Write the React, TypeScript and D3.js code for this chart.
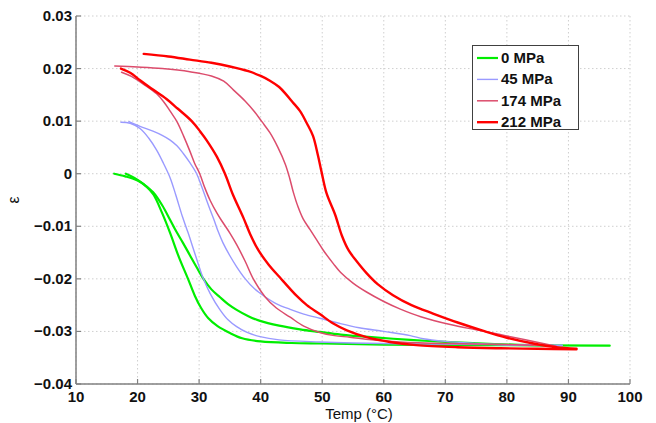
import React from "react";
import * as d3 from "d3";

type P = [number, number];

const xTicks = [10, 20, 30, 40, 50, 60, 70, 80, 90, 100];
const yTicks = [0.03, 0.02, 0.01, 0, -0.01, -0.02, -0.03, -0.04];
const seriesNames = ["0 MPa", "45 MPa", "174 MPa", "212 MPa"];

const green1: P[] = [[16.2,0],[18,-0.0005],[20,-0.0013],[21.5,-0.0025],[22.6,-0.004],[24,-0.0075],[25.3,-0.0113],[26.7,-0.0158],[28.2,-0.02],[29.3,-0.0232],[30.3,-0.0255],[31.5,-0.0275],[33,-0.029],[35,-0.0303],[37,-0.0313],[40,-0.0319],[45,-0.0322],[50,-0.0323],[60,-0.0325],[75,-0.0326],[96.7,-0.0327]];
const green2: P[] = [[18.1,0],[19.5,-0.0008],[21,-0.002],[22.5,-0.0035],[24,-0.006],[25.3,-0.0088],[26.3,-0.011],[27.4,-0.0132],[28.5,-0.0155],[29.6,-0.0178],[30.7,-0.02],[32,-0.022],[33.4,-0.0235],[34.7,-0.0248],[36.1,-0.0259],[38,-0.0271],[39.9,-0.028],[43,-0.0289],[46.4,-0.0296],[49.6,-0.0301],[53,-0.0306],[58,-0.0311],[64.3,-0.0316],[70,-0.032],[78,-0.0324],[87.5,-0.0327]];
const blue1: P[] = [[17.3,0.0098],[18.8,0.0096],[20.4,0.0086],[21.8,0.0068],[23.1,0.0045],[24.2,0.002],[25.3,-0.0008],[26.2,-0.004],[27.3,-0.0082],[28.2,-0.0112],[29.4,-0.0155],[30.7,-0.02],[31.8,-0.0228],[33.4,-0.0259],[34.7,-0.0278],[36.1,-0.0291],[37.8,-0.0302],[39.9,-0.031],[43,-0.0316],[49.6,-0.032],[55,-0.0322],[65,-0.0324],[78,-0.0325],[89,-0.0326]];
const blue2: P[] = [[18.6,0.0099],[20.4,0.009],[22.5,0.0081],[24,0.0073],[25.3,0.0064],[26.4,0.0053],[27.4,0.0039],[28.5,0.0021],[29.6,0],[30.4,-0.0024],[31.2,-0.005],[31.8,-0.0069],[32.4,-0.0087],[33.1,-0.011],[33.9,-0.0132],[35,-0.0156],[36.1,-0.0177],[37.5,-0.02],[39,-0.0219],[40.7,-0.0234],[42.5,-0.0247],[44.8,-0.0258],[47,-0.0267],[49.6,-0.0275],[52.9,-0.0285],[56,-0.0293],[60,-0.03],[64.3,-0.0308],[66.4,-0.0314],[70,-0.0319],[75,-0.0323],[80,-0.0326],[89,-0.0327]];
const crimson1: P[] = [[16.3,0.0205],[20,0.0203],[24,0.02],[28.5,0.0194],[32,0.0186],[34,0.0176],[35.6,0.0159],[37.5,0.0138],[39,0.0118],[40.2,0.0099],[41.5,0.0078],[42.8,0.005],[44,0.0018],[44.7,-0.0008],[45.3,-0.0035],[46.1,-0.0064],[46.9,-0.0086],[48,-0.0106],[49.1,-0.0126],[50.2,-0.0146],[51.8,-0.0171],[53,-0.0188],[55,-0.0208],[57.2,-0.0225],[60,-0.0243],[62.6,-0.0257],[66,-0.0272],[70.8,-0.0287],[75,-0.0297],[78.9,-0.0306],[83,-0.0316],[88,-0.0328]];
const crimson2: P[] = [[17.4,0.0193],[19,0.0185],[21,0.017],[23.1,0.0152],[24.3,0.0136],[25.3,0.0119],[26.4,0.0099],[27.5,0.0071],[28.5,0.0043],[29.3,0.0019],[30.1,0],[30.9,-0.0026],[31.8,-0.0051],[32.9,-0.0075],[33.7,-0.009],[35,-0.0113],[36.1,-0.0135],[37.5,-0.0167],[38.8,-0.02],[40.7,-0.0234],[42.5,-0.0255],[44.8,-0.0273],[47,-0.029],[49.6,-0.0302],[52,-0.0308],[54.5,-0.0311],[58,-0.0316],[62.6,-0.032],[70,-0.0323],[80,-0.0325],[86.5,-0.0327]];
const red1: P[] = [[21,0.0228],[25,0.0223],[28.5,0.0217],[32,0.0211],[35,0.0204],[38,0.0195],[40,0.0186],[41.5,0.0177],[43,0.0165],[44.2,0.015],[45.2,0.0136],[46.4,0.0119],[47.5,0.0096],[48.5,0.0072],[49.3,0.0035],[49.9,0.0003],[50.7,-0.0037],[52.1,-0.0078],[53.2,-0.0118],[54.3,-0.0146],[55.5,-0.0165],[57.2,-0.0189],[59,-0.021],[61.5,-0.0231],[64.5,-0.025],[68,-0.0266],[72,-0.0283],[76.2,-0.0299],[80,-0.0312],[84.3,-0.0323],[88,-0.033],[91.3,-0.0333]];
const red2: P[] = [[17.3,0.02],[18.8,0.0192],[20.4,0.0178],[22.5,0.016],[24.7,0.0142],[26.5,0.0124],[28.8,0.01],[30.2,0.008],[31.2,0.0064],[32.9,0.0032],[34.2,0],[35.5,-0.004],[37.2,-0.0084],[38.3,-0.0115],[39.6,-0.0145],[41.3,-0.0173],[43.1,-0.0197],[45.9,-0.0233],[47.5,-0.025],[49.6,-0.0267],[51.8,-0.0285],[54,-0.0298],[57.2,-0.0311],[61,-0.032],[65.3,-0.0326],[72,-0.033],[78.9,-0.0332],[85,-0.0333],[91.3,-0.0334]];

const seriesColors = ["#00ee00", "#9a9aff", "#dc4c6c", "#ff0000"];
const seriesWidths = [2.2, 1.4, 1.5, 2.4];
const seriesData: P[][][] = [[green1, green2], [blue1, blue2], [crimson1, crimson2], [red1, red2]];

const L = 76, R = 630, T = 16, B = 384;
const FONT = "'Liberation Sans', Arial, Helvetica, sans-serif";

export default function App() {
  const x = d3.scaleLinear().domain([10, 100]).range([L, R]);
  const y = d3.scaleLinear().domain([-0.04, 0.03]).range([B, T]);
  const line = d3.line<P>().x(d => x(d[0])).y(d => y(d[1])).curve(d3.curveCatmullRom.alpha(0.5));
  const fmtY = (v: number) => (v === 0 ? "0" : (v < 0 ? "\u2212" : "") + Math.abs(v).toFixed(2));
  const axisColor = "#808080";
  const gridColor = "#cfcfcf";

  return (
    <svg width={656} height={423} style={{ position: "absolute", left: 0, top: 0, background: "#fff" }}>
      <rect x={0} y={0} width={656} height={423} fill="#fff" />
      {xTicks.map(t => (
        <line key={"gx" + t} x1={x(t)} x2={x(t)} y1={T} y2={B} stroke={gridColor} strokeWidth={1} strokeDasharray="1.5,2.5" />
      ))}
      {yTicks.map(t => (
        <line key={"gy" + t} x1={L} x2={R} y1={y(t)} y2={y(t)} stroke={gridColor} strokeWidth={1} strokeDasharray="1.5,2.5" />
      ))}
      {seriesData.map((branches, i) =>
        branches.map((d, j) => (
          <path key={"s" + i + "_" + j} d={line(d) || ""} fill="none" stroke={seriesColors[i]} strokeWidth={seriesWidths[i]} strokeLinejoin="round" strokeLinecap="round" />
        ))
      )}
      <line x1={L} x2={L} y1={T} y2={B} stroke={axisColor} strokeWidth={1.5} />
      <line x1={L} x2={R} y1={B} y2={B} stroke={axisColor} strokeWidth={1.5} />
      {xTicks.map(t => (
        <g key={"xt" + t}>
          <line x1={x(t)} x2={x(t)} y1={B} y2={B - 5} stroke={axisColor} strokeWidth={1.2} />
          <text x={x(t)} y={402} textAnchor="middle" fontFamily={FONT} fontWeight="bold" fontSize={15} fill="#111">{t}</text>
        </g>
      ))}
      {yTicks.map(t => (
        <g key={"yt" + t}>
          <line x1={L} x2={L + 5} y1={y(t)} y2={y(t)} stroke={axisColor} strokeWidth={1.2} />
          <text x={72} y={y(t) + 5} textAnchor="end" fontFamily={FONT} fontWeight="bold" fontSize={15} fill="#111">{fmtY(t)}</text>
        </g>
      ))}
      <text x={359} y={419} textAnchor="middle" fontFamily={FONT} fontSize={15} fill="#111">Temp (°C)</text>
      <text transform="translate(19,200) rotate(-90)" textAnchor="middle" fontFamily={FONT} fontSize={16} fill="#111">ε</text>
      <rect x={472.5} y={45.5} width={106} height={84} fill="#fff" stroke="#404040" strokeWidth={1} />
      {seriesNames.map((n, i) => {
        const yy = 58 + i * 21.4;
        return (
          <g key={"lg" + i}>
            <line x1={477} x2={498} y1={yy} y2={yy} stroke={seriesColors[i]} strokeWidth={seriesWidths[i]} />
            <text x={501} y={yy + 5} fontFamily={FONT} fontWeight="bold" fontSize={15} fill="#111">{n}</text>
          </g>
        );
      })}
    </svg>
  );
}
